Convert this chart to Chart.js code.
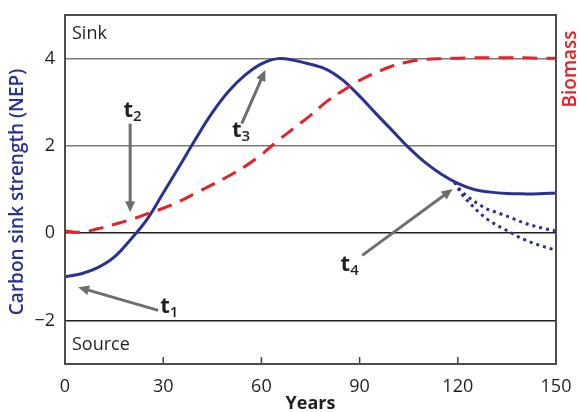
<!DOCTYPE html>
<html>
<head>
<meta charset="utf-8">
<script src="https://cdn.jsdelivr.net/npm/chart.js@4.4.1/dist/chart.umd.min.js"></script>
<style>
html, body { margin: 0; padding: 0; background: #fff; }
</style>
</head>
<body>
<canvas id="nep-chart" width="580" height="412"></canvas>
<script>
// Years along the x axis
const years = [0, 5, 10, 15, 20, 25, 30, 35, 40, 45, 50, 55, 60, 65, 70, 75,
               80, 85, 90, 95, 100, 105, 110, 115, 120, 125, 130, 135, 140, 145, 150];

// Carbon sink strength (NEP), solid blue
const nepValues = [-1.0, -0.93, -0.79, -0.55, -0.15, 0.31, 0.92, 1.54, 2.17, 2.76, 3.25, 3.62, 3.88, 4.0, 3.96, 3.87,
                   3.75, 3.5, 3.14, 2.74, 2.35, 1.96, 1.62, 1.35, 1.14, 1.0, 0.94, 0.91, 0.9, 0.9, 0.92];

// Biomass, dashed red
const biomassValues = [0.05, 0.02, 0.1, 0.2, 0.31, 0.44, 0.57, 0.73, 0.92, 1.11, 1.31, 1.53, 1.8, 2.12, 2.41, 2.7,
                       3.02, 3.27, 3.5, 3.68, 3.83, 3.93, 3.98, 4.0, 4.01, 4.02, 4.02, 4.02, 4.02, 4.01, 4.01];

// Disturbance branches after t4, dotted blue
const branchYears = [119, 121, 123, 126, 129, 132, 135, 140, 145, 150];
const branchUpper = [1.17, 0.97, 0.84, 0.68, 0.55, 0.47, 0.39, 0.24, 0.13, 0.05];
const branchLower = [1.17, 0.92, 0.74, 0.51, 0.32, 0.18, 0.06, -0.14, -0.28, -0.39];

const yTicks = [-2, 0, 2, 4];

const blue = '#2b3192';
const red = '#e2232a';
const grey = '#6d6e71';
const ink = '#231f20';
const fontFamily = '"Open Sans", "DejaVu Sans", sans-serif';

function toPoints(xs, ys) {
    return xs.map((x, i) => ({ x: x, y: ys[i] }));
}

function drawArrow(ctx, x1, y1, x2, y2) {
    const a = Math.atan2(y2 - y1, x2 - x1);
    const head = 11, half = 5;
    ctx.save();
    ctx.strokeStyle = grey;
    ctx.fillStyle = grey;
    ctx.lineWidth = 3;
    ctx.beginPath();
    ctx.moveTo(x1, y1);
    ctx.lineTo(x2 - Math.cos(a) * head * 0.8, y2 - Math.sin(a) * head * 0.8);
    ctx.stroke();
    ctx.beginPath();
    ctx.moveTo(x2, y2);
    ctx.lineTo(x2 - head * Math.cos(a) + half * Math.sin(a), y2 - head * Math.sin(a) - half * Math.cos(a));
    ctx.lineTo(x2 - head * Math.cos(a) - half * Math.sin(a), y2 - head * Math.sin(a) + half * Math.cos(a));
    ctx.closePath();
    ctx.fill();
    ctx.restore();
}

// t labels and arrows, placed in data units
const notes = [
    { sub: '1', at: [29.1, -1.82], from: [28.5, -1.77], to: [4.0, -1.24] },
    { sub: '2', at: [17.85, 2.67], from: [19.9, 2.51], to: [19.9, 0.48] },
    { sub: '3', at: [51.0, 2.21], from: [54.0, 2.51], to: [61.2, 3.74] },
    { sub: '4', at: [84.2, -0.87], from: [90.8, -0.51], to: [118.4, 1.01] }
];

const decorPlugin = {
    id: 'decor',
    afterDatasetsDraw(chart) {
        const ctx = chart.ctx;
        const xs = chart.scales.x, ys = chart.scales.y;
        const area = chart.chartArea;

        // inner tick marks on x axis
        ctx.save();
        ctx.strokeStyle = '#444';
        ctx.lineWidth = 1.5;
        [30, 60, 90, 120].forEach(v => {
            const px = xs.getPixelForValue(v);
            ctx.beginPath();
            ctx.moveTo(px, area.bottom);
            ctx.lineTo(px, area.bottom - 7);
            ctx.stroke();
        });

        // frame
        ctx.strokeStyle = '#4d4d4d';
        ctx.lineWidth = 2;
        ctx.strokeRect(area.left, area.top, area.right - area.left, area.bottom - area.top);

        // Sink / Source
        ctx.fillStyle = ink;
        ctx.font = '18px ' + fontFamily;
        ctx.textAlign = 'left';
        ctx.textBaseline = 'alphabetic';
        ctx.fillText('Sink', area.left + 7, ys.getPixelForValue(4.46));
        ctx.fillText('Source', area.left + 7, ys.getPixelForValue(-2.69));

        // arrows and t labels
        notes.forEach(n => {
            drawArrow(ctx, xs.getPixelForValue(n.from[0]), ys.getPixelForValue(n.from[1]),
                      xs.getPixelForValue(n.to[0]), ys.getPixelForValue(n.to[1]));
            const lx = xs.getPixelForValue(n.at[0]);
            const ly = ys.getPixelForValue(n.at[1]);
            ctx.fillStyle = ink;
            ctx.font = 'bold 22px ' + fontFamily;
            ctx.fillText('t', lx, ly);
            const w = ctx.measureText('t').width;
            ctx.font = '600 15px ' + fontFamily;
            ctx.fillText(n.sub, lx + w, ly + 4);
        });

        // axis titles
        ctx.font = '600 19px ' + fontFamily;
        ctx.textAlign = 'center';
        ctx.textBaseline = 'middle';
        ctx.fillStyle = blue;
        ctx.translate(18, 192);
        ctx.rotate(-Math.PI / 2);
        ctx.fillText('Carbon sink strength (NEP)', 0, 0);
        ctx.rotate(Math.PI / 2);
        ctx.translate(-18, -192);
        ctx.fillStyle = red;
        ctx.translate(571, 69);
        ctx.rotate(-Math.PI / 2);
        ctx.fillText('Biomass', 0, 0);
        ctx.restore();
    }
};

const ctx = document.getElementById('nep-chart').getContext('2d');
const nepChart = new Chart(ctx, {
    type: 'line',
    data: {
        datasets: [
            {
                label: 'Biomass',
                data: toPoints(years, biomassValues),
                borderColor: red,
                borderWidth: 3,
                borderDash: [15, 9],
                pointRadius: 0,
                tension: 0.4
            },
            {
                label: 'NEP (high)',
                data: toPoints(branchYears, branchUpper),
                borderColor: blue,
                borderWidth: 3,
                borderDash: [3, 4],
                pointRadius: 0,
                cubicInterpolationMode: 'monotone'
            },
            {
                label: 'NEP (low)',
                data: toPoints(branchYears, branchLower),
                borderColor: blue,
                borderWidth: 3,
                borderDash: [3, 4],
                pointRadius: 0,
                cubicInterpolationMode: 'monotone'
            },
            {
                label: 'NEP',
                data: toPoints(years, nepValues),
                borderColor: blue,
                borderWidth: 3,
                pointRadius: 0,
                tension: 0.4
            }
        ]
    },
    options: {
        responsive: false,
        animation: false,
        layout: { padding: { top: 15, right: 24, left: 0, bottom: 0 } },
        plugins: {
            legend: { display: false },
            tooltip: { enabled: false }
        },
        scales: {
            x: {
                type: 'linear',
                min: 0,
                max: 150,
                grid: { display: false },
                border: { display: false },
                ticks: {
                    stepSize: 30,
                    padding: 4,
                    color: ink,
                    font: { family: fontFamily, size: 18 }
                },
                title: {
                    display: true,
                    text: 'Years',
                    color: ink,
                    padding: { top: 0, bottom: -3 },
                    font: { family: fontFamily, size: 18, weight: 'bold' }
                },
                afterFit(scale) {
                    scale.height = 48;
                    scale.paddingLeft = 0;
                    scale.paddingRight = 0;
                }
            },
            y: {
                min: -3,
                max: 5,
                afterBuildTicks(scale) { scale.ticks = yTicks.map(v => ({ value: v })); },
                afterFit(scale) {
                    scale.width = 65;
                    scale.paddingTop = 0;
                    scale.paddingBottom = 0;
                },
                border: { display: false },
                grid: {
                    drawTicks: false,
                    lineWidth: 1.5,
                    color: c => (c.tick && c.tick.value > 0) ? '#7a7a7a' : ink
                },
                ticks: {
                    padding: 10,
                    color: ink,
                    font: { family: fontFamily, size: 18 },
                    callback: v => String(v).replace('-', '\u2212')
                }
            }
        }
    },
    plugins: [decorPlugin]
});
</script>
</body>
</html>
